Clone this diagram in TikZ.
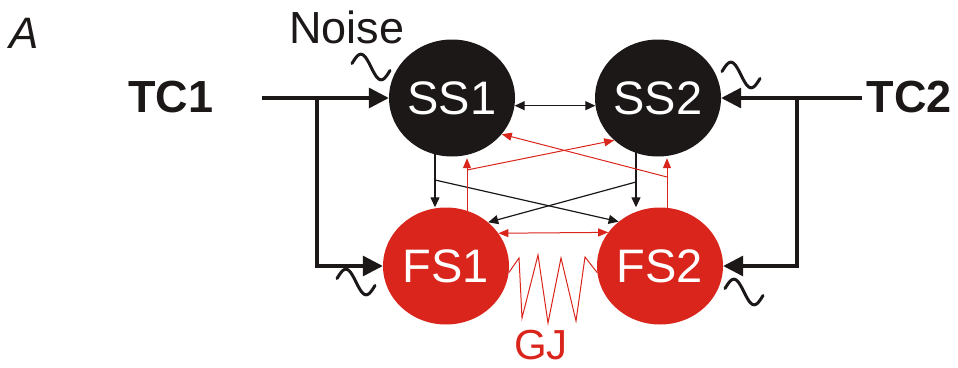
\documentclass[tikz,border=0pt]{standalone}
\usepackage{fontspec}
\setmainfont{Liberation Sans}
\usetikzlibrary{arrows.meta,shapes.geometric}
\definecolor{nred}{RGB}{218,37,28}
\definecolor{nblk}{RGB}{28,24,24}
\pgfdeclarelayer{bg}
\pgfsetlayers{bg,main}
\begin{document}
\begin{tikzpicture}[x=1pt,y=-1pt,
  cell/.style={ellipse, minimum width=126pt, minimum height=117pt, inner sep=0pt,
    text=white, font=\fontsize{47}{50}\selectfont},
  sscell/.style={cell, fill=nblk},
  fscell/.style={cell, fill=nred},
  lbl/.style={inner sep=0pt, text=nblk, font=\fontsize{45}{50}\selectfont},
  tclbl/.style={lbl, font=\bfseries\fontsize{45}{50}\selectfont},
  drive/.style={line width=3.2pt, draw=nblk, line join=miter,
    -{Triangle[length=20pt,width=20pt]}},
  blkcon/.style={line width=1.2pt, draw=nblk, -{Triangle[length=10pt,width=9pt]}},
  redcon/.style={line width=1pt, draw=nred, -{Triangle[length=10pt,width=8pt]}},
  blkbi/.style={line width=1.2pt, draw=nblk, {Triangle[length=10pt,width=9pt]}-{Triangle[length=10pt,width=9pt]}},
  redbi/.style={line width=1pt, draw=nred, {Triangle[length=10pt,width=8pt]}-{Triangle[length=10pt,width=8pt]}},
  gj/.style={line width=1pt, draw=nred, line join=miter},
  tld/.style={line width=3pt, draw=nblk, line cap=round}
]
\useasboundingbox (0,0) rectangle (958,367);

% cells
\node[sscell] (SS1) at (452,98) {SS1};
\node[sscell] (SS2) at (658,98) {SS2};
\node[fscell] (FS1) at (446,266) {FS1};
\node[fscell] (FS2) at (660,266) {FS2};

% labels
\node[lbl, font=\itshape\fontsize{44}{50}\selectfont] (A) at (24,33) {A};
\node[lbl] (noise) at (347,27) {Noise};
\node[tclbl] (TC1) at (171,97) {TC1};
\node[tclbl] (TC2) at (909,97) {TC2};
\node[lbl, text=nred, font=\fontsize{42}{48}\selectfont] (GJ) at (541,345) {GJ};

% branch points
\coordinate (t1) at (262,98);
\coordinate (b1) at (317,98);
\coordinate (t2) at (862,98);
\coordinate (b2) at (797,98);
\coordinate (k1) at (435,180);
\coordinate (k2) at (636,182);
\coordinate (r1) at (467,170);
\coordinate (r2) at (667,177);

% noise marks
\coordinate (n1) at (371,67);
\coordinate (n2) at (741,75);
\coordinate (n3) at (356,282);
\coordinate (n4) at (744,292);

\begin{pgfonlayer}{bg}
  % thalamic drive
  \draw[drive] (t1) -- (SS1.west);
  \draw[drive] (b1) |- (FS1.west);
  \draw[drive] (t2) -- (SS2.east);
  \draw[drive] (b2) |- (FS2.east);

  % SS <-> SS
  \draw[blkbi] (SS1.-7.5) -- (SS2.187.5);
  % FS <-> FS
  \draw[redbi] (FS1.32.6) -- (FS2.147.4);

  % SS1 outputs
  \draw[blkcon] (k1 |- SS1.center) -- (k1 |- FS1.north);
  \draw[blkcon] (k1) -- (FS2.133);
  % SS2 outputs
  \draw[blkcon] (k2 |- SS2.center) -- (k2 |- FS2.north);
  \draw[blkcon] (k2) -- (FS1.46);
  % FS1 outputs
  \draw[redcon] (r1 |- FS1.center) -- ([yshift=-1.5pt]r1 |- SS1.south);
  \draw[redcon] (r1) -- (SS2.224);
  % FS2 outputs
  \draw[redcon] (r2 |- FS2.center) -- ([yshift=-1.5pt]r2 |- SS2.south);
  \draw[redcon] (r2) -- (SS1.-36);

  % gap junction
  \draw[gj] (FS1.-6.5) -- (519,258) -- (522,318) -- (538,255) -- (548,323)
     -- (561,258) -- (576,321) -- (585,257) -- (FS2.186.5);
\end{pgfonlayer}

% noise tildes
\foreach \n in {n1,n2,n3,n4}{
  \draw[tld, shift={(\n)}] plot[domain=0:1, samples=40, smooth]
     ({-19+38*\x}, {-11*sin(360*\x)+7*(\x-0.5)});
}
\end{tikzpicture}
\end{document}
